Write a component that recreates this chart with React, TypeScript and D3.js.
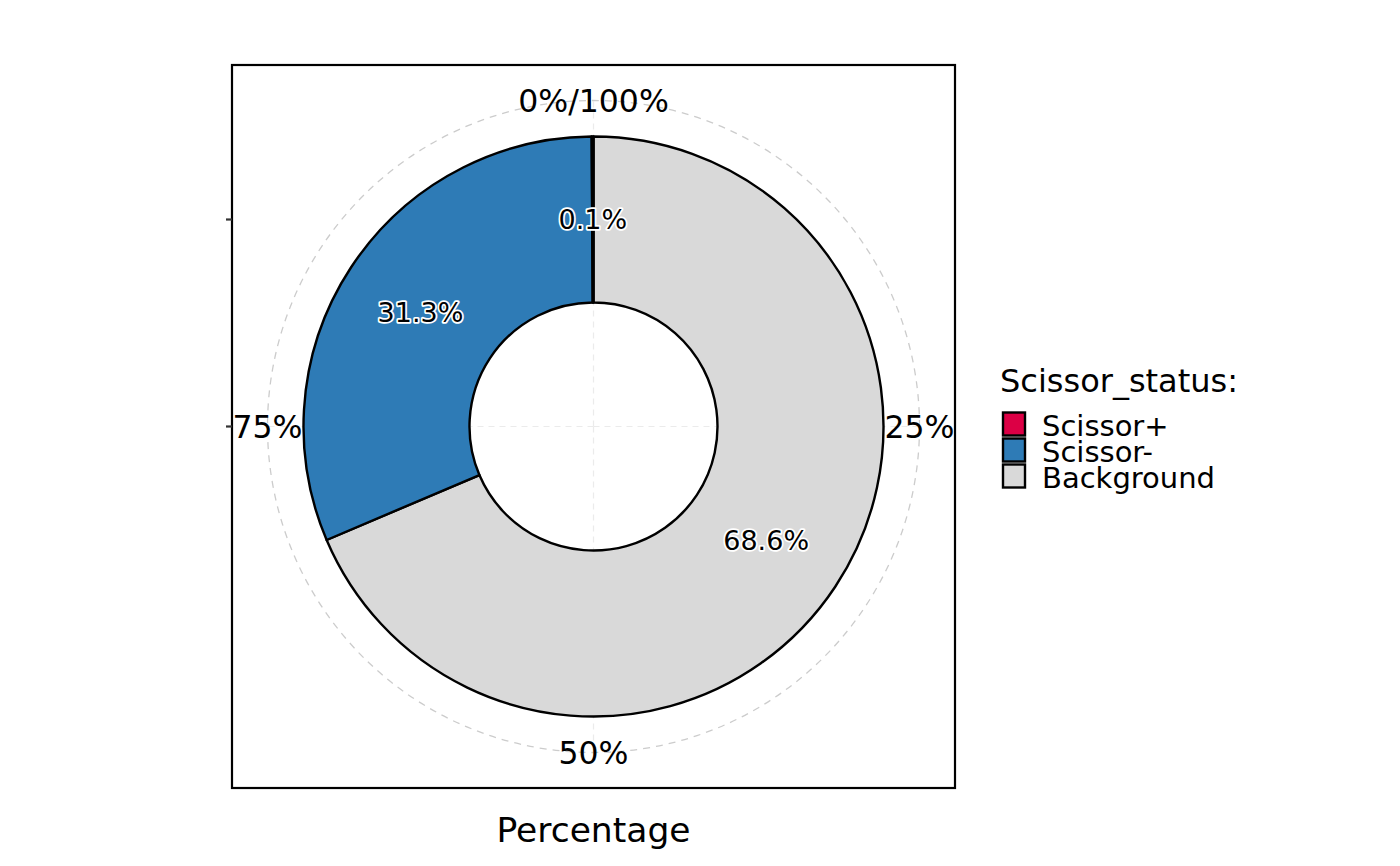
import { useEffect, useRef } from "react";
import * as d3 from "d3";

// stack order as drawn clockwise from 12 o'clock
const categories = ["Background", "Scissor-", "Scissor+"];
const percents = [68.6, 31.3, 0.1];
const colors = ["#D9D9D9", "#2E7BB6", "#DC0045"];

// legend order
const legendOrder = ["Scissor+", "Scissor-", "Background"];

const thetaTicks = [0, 25, 50, 75];
const thetaLabels = ["0%/100%", "25%", "50%", "75%"];

const FONT = "'DejaVu Sans', sans-serif";

export default function App() {
  const svgRef = useRef<SVGSVGElement>(null);

  useEffect(() => {
    document.body.style.margin = "0";

    const width = 1400;
    const height = 866;
    const panel = { left: 232, top: 65, right: 955, bottom: 788 };
    const cx = (panel.left + panel.right) / 2;
    const cy = (panel.top + panel.bottom) / 2;

    const innerR = 124;
    const outerR = 290;
    const labelR = 326;

    const svg = d3.select(svgRef.current);
    svg.selectAll("*").remove();
    svg.attr("width", width).attr("height", height);

    svg.append("rect").attr("width", width).attr("height", height).attr("fill", "#fff");

    const theta = d3.scaleLinear().domain([0, 100]).range([0, 2 * Math.PI]);

    const g = svg.append("g").attr("transform", `translate(${cx},${cy})`);

    // theta grid lines
    g.selectAll("line.grid")
      .data(thetaTicks)
      .enter()
      .append("line")
      .attr("x1", 0)
      .attr("y1", 0)
      .attr("x2", (d) => labelR * Math.sin(theta(d)))
      .attr("y2", (d) => -labelR * Math.cos(theta(d)))
      .attr("stroke", "#EBEBEB")
      .attr("stroke-width", 1.2)
      .attr("stroke-dasharray", "6,5");

    // outer dashed circle
    g.append("circle")
      .attr("r", labelR)
      .attr("fill", "none")
      .attr("stroke", "#CCCCCC")
      .attr("stroke-width", 1.3)
      .attr("stroke-dasharray", "7,6");

    const data = categories.map((c, i) => ({ cat: c, value: percents[i], color: colors[i] }));
    const pie = d3
      .pie<(typeof data)[number]>()
      .value((d) => d.value)
      .sort(null)
      .startAngle(0)
      .endAngle(2 * Math.PI);
    const arcs = pie(data);

    const arc = d3.arc<d3.PieArcDatum<(typeof data)[number]>>().innerRadius(innerR).outerRadius(outerR);

    g.selectAll("path.slice")
      .data(arcs)
      .enter()
      .append("path")
      .attr("d", arc)
      .attr("fill", (d) => d.data.color)
      .attr("stroke", "#000")
      .attr("stroke-width", 2.4)
      .attr("stroke-linejoin", "round");

    // slice labels with white halo
    g.selectAll("text.slice")
      .data(arcs)
      .enter()
      .append("text")
      .attr("transform", (d) => `translate(${arc.centroid(d)})`)
      .attr("text-anchor", "middle")
      .attr("dominant-baseline", "central")
      .attr("font-family", FONT)
      .attr("font-size", 27)
      .attr("fill", "#000")
      .attr("stroke", "#fff")
      .attr("stroke-width", 3.5)
      .attr("stroke-linejoin", "round")
      .attr("paint-order", "stroke")
      .text((d) => `${d.data.value.toFixed(1)}%`);

    // theta labels
    g.selectAll("text.theta")
      .data(thetaTicks)
      .enter()
      .append("text")
      .attr("x", (d) => labelR * Math.sin(theta(d)))
      .attr("y", (d) => -labelR * Math.cos(theta(d)))
      .attr("text-anchor", "middle")
      .attr("dominant-baseline", "central")
      .attr("font-family", FONT)
      .attr("font-size", 31.5)
      .attr("fill", "#000")
      .text((_, i) => thetaLabels[i]);

    // panel border
    svg.append("rect")
      .attr("x", panel.left)
      .attr("y", panel.top)
      .attr("width", panel.right - panel.left)
      .attr("height", panel.bottom - panel.top)
      .attr("fill", "none")
      .attr("stroke", "#000")
      .attr("stroke-width", 2.2);

    // left axis ticks (radial positions)
    const rTicks = [(innerR + outerR) / 2, 0];
    svg.selectAll("line.rtick")
      .data(rTicks)
      .enter()
      .append("line")
      .attr("x1", panel.left - 6)
      .attr("x2", panel.left)
      .attr("y1", (d) => cy - d)
      .attr("y2", (d) => cy - d)
      .attr("stroke", "#333")
      .attr("stroke-width", 2.2);

    // axis title
    svg.append("text")
      .attr("x", cx)
      .attr("y", 842)
      .attr("text-anchor", "middle")
      .attr("font-family", FONT)
      .attr("font-size", 34.5)
      .attr("fill", "#000")
      .text("Percentage");

    // legend
    const lg = svg.append("g").attr("transform", "translate(1000,0)");
    lg.append("text")
      .attr("x", 0)
      .attr("y", 392)
      .attr("font-family", FONT)
      .attr("font-size", 32)
      .attr("fill", "#000")
      .text("Scissor_status:");

    const keyY = d3.scaleBand().domain(legendOrder).range([411, 489]);
    const items = lg
      .selectAll("g.item")
      .data(legendOrder)
      .enter()
      .append("g")
      .attr("transform", (d) => `translate(0,${keyY(d)})`);

    items
      .append("rect")
      .attr("x", 3)
      .attr("y", 1.5)
      .attr("width", 22)
      .attr("height", keyY.bandwidth() - 3)
      .attr("fill", (d) => colors[categories.indexOf(d)])
      .attr("stroke", "#000")
      .attr("stroke-width", 2.4);

    items
      .append("text")
      .attr("x", 42)
      .attr("y", keyY.bandwidth() / 2 + 1.5)
      .attr("dominant-baseline", "central")
      .attr("font-family", FONT)
      .attr("font-size", 29)
      .attr("fill", "#000")
      .text((d) => d);
  }, []);

  return <svg ref={svgRef} style={{ display: "block" }} />;
}
